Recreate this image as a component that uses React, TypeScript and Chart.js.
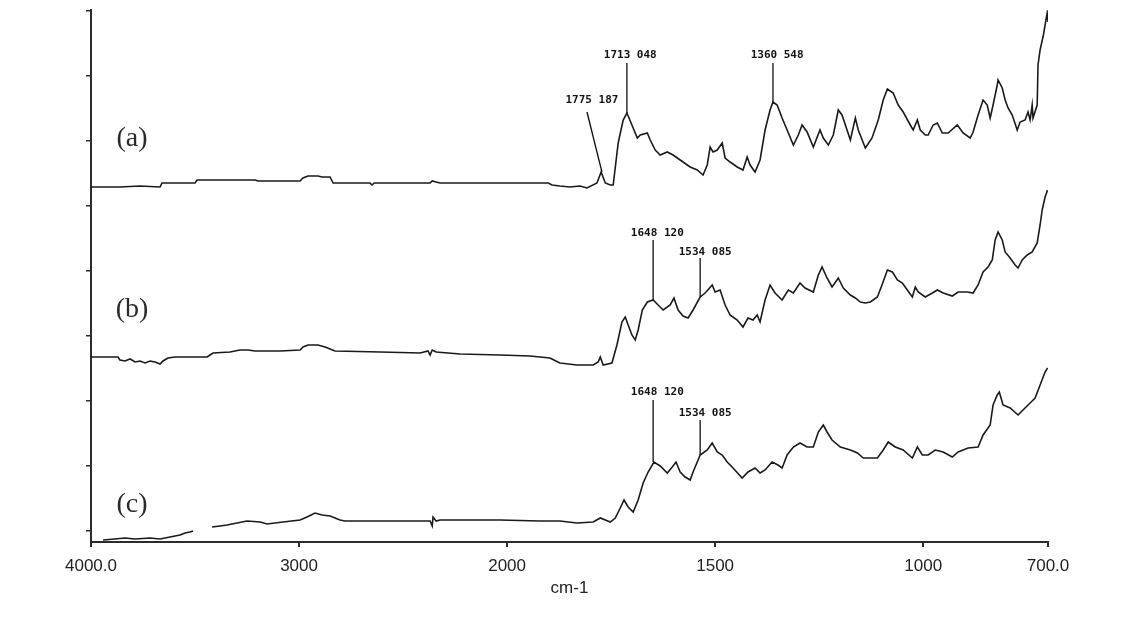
import React, { useEffect, useRef } from "react";
import { Chart, registerables } from "chart.js";

Chart.register(...registerables);

// Wavenumber (cm-1) tick values and their printed labels
const xTickValues = [4000, 3000, 2000, 1500, 1000, 700];
const xTickLabels = ["4000.0", "3000", "2000", "1500", "1000", "700.0"];
// unlabeled left-axis tick marks (arbitrary absorbance units)
const yTickValues = [1.1, 7.6, 14.1, 20.6, 27.1, 33.6, 40.1, 46.6, 53.1];

// Spectrum (a): [wavenumber, value]
const traceA: [number, number][] = [
  [4000, 35.5], [3861, 35.5], [3764, 35.6], [3668, 35.5], [3659, 35.9], [3500, 35.9], [3490, 36.2], [3211, 36.2],
  [3197, 36.1], [2995, 36.1], [2981, 36.4], [2957, 36.6], [2909, 36.6], [2889, 36.5], [2851, 36.5], [2836, 35.9],
  [2659, 35.9], [2649, 35.7], [2639, 35.9], [2370, 35.9], [2360, 36.1], [2341, 36.0], [2322, 35.9], [1901, 35.9],
  [1892, 35.7], [1873, 35.6], [1849, 35.5], [1825, 35.6], [1808, 35.4], [1784, 35.9], [1774, 37.0], [1764, 35.9],
  [1752, 35.7], [1745, 35.7], [1733, 39.9], [1721, 42.2], [1712, 42.9], [1700, 41.7], [1687, 40.4], [1680, 40.7],
  [1663, 40.9], [1656, 40.2], [1644, 39.2], [1632, 38.7], [1615, 39.0], [1601, 38.7], [1584, 38.2], [1560, 37.5],
  [1543, 37.2], [1529, 36.7], [1519, 37.7], [1512, 39.5], [1505, 39.0], [1495, 39.2], [1483, 39.9], [1476, 38.4],
  [1464, 38.0], [1447, 37.5], [1433, 37.2], [1423, 38.5], [1416, 37.7], [1404, 37.0], [1392, 38.2], [1380, 41.2],
  [1368, 43.2], [1361, 44.0], [1351, 43.7], [1339, 42.4], [1327, 41.2], [1312, 39.7], [1300, 40.7], [1291, 41.7],
  [1279, 41.0], [1264, 39.5], [1248, 41.2], [1240, 40.4], [1228, 39.7], [1216, 40.7], [1204, 43.2], [1195, 42.7],
  [1183, 41.2], [1175, 40.2], [1163, 42.4], [1156, 41.2], [1139, 39.4], [1123, 40.4], [1108, 42.2], [1096, 44.2],
  [1086, 45.3], [1072, 44.9], [1060, 43.7], [1048, 43.0], [1031, 41.7], [1024, 41.2], [1014, 42.2], [1007, 41.2],
  [995, 40.7], [988, 40.7], [976, 41.7], [966, 41.9], [954, 40.9], [940, 40.9], [918, 41.7], [904, 40.9],
  [887, 40.4], [880, 41.0], [868, 42.7], [856, 44.2], [846, 43.7], [839, 42.4], [832, 43.7], [822, 45.7],
  [820, 46.2], [810, 45.4], [803, 44.2], [796, 43.4], [786, 42.7], [774, 41.2], [767, 42.0], [755, 42.2],
  [748, 43.0], [743, 42.2], [738, 43.7], [736, 42.4], [726, 43.7], [724, 47.7], [719, 49.2], [711, 50.7],
  [707, 51.7], [702, 52.9], [700, 52.0],
];

// Spectrum (b)
const traceB: [number, number][] = [
  [4000, 18.5], [3957, 18.5], [3870, 18.5], [3861, 18.2], [3837, 18.1], [3812, 18.3], [3788, 18.0], [3764, 18.1],
  [3740, 17.9], [3716, 18.1], [3692, 18.0], [3668, 17.8], [3654, 18.1], [3630, 18.4], [3596, 18.5], [3524, 18.5],
  [3442, 18.5], [3428, 18.7], [3413, 18.9], [3332, 19.0], [3284, 19.2], [3245, 19.2], [3211, 19.1], [3091, 19.1],
  [2995, 19.2], [2981, 19.5], [2957, 19.7], [2909, 19.7], [2875, 19.5], [2827, 19.1], [2610, 19.0], [2418, 18.9],
  [2380, 19.1], [2370, 18.7], [2360, 19.2], [2341, 19.0], [2226, 18.8], [2034, 18.7], [1945, 18.6], [1897, 18.4],
  [1873, 17.9], [1832, 17.7], [1793, 17.7], [1781, 18.0], [1776, 18.5], [1769, 17.7], [1748, 17.9], [1736, 19.7],
  [1724, 22.0], [1716, 22.5], [1709, 21.7], [1700, 20.7], [1692, 20.2], [1685, 21.2], [1675, 23.2], [1663, 24.0],
  [1649, 24.2], [1637, 23.7], [1625, 23.2], [1608, 23.7], [1599, 24.4], [1589, 23.2], [1577, 22.6], [1565, 22.4],
  [1553, 23.2], [1536, 24.5], [1524, 24.9], [1507, 25.7], [1500, 25.0], [1488, 25.2], [1476, 23.7], [1464, 22.7],
  [1447, 22.2], [1433, 21.5], [1421, 22.4], [1409, 22.2], [1399, 22.7], [1392, 22.0], [1380, 24.2], [1368, 25.7],
  [1356, 24.9], [1339, 24.2], [1324, 25.2], [1312, 24.9], [1296, 25.9], [1284, 25.4], [1264, 25.0], [1252, 26.7],
  [1243, 27.5], [1231, 26.4], [1219, 25.5], [1204, 26.4], [1192, 25.4], [1175, 24.7], [1163, 24.4], [1151, 24.0],
  [1139, 23.9], [1127, 24.0], [1110, 24.5], [1099, 25.7], [1086, 27.2], [1074, 27.0], [1062, 26.2], [1050, 25.9],
  [1038, 25.2], [1026, 24.5], [1019, 25.5], [1012, 25.0], [995, 24.5], [978, 24.9], [966, 25.2], [952, 24.9],
  [930, 24.6], [916, 25.0], [894, 25.0], [880, 24.9], [868, 25.7], [856, 27.0], [844, 27.5], [834, 28.2],
  [827, 30.2], [820, 31.0], [810, 30.2], [803, 29.0], [791, 28.4], [779, 27.7], [772, 27.4], [762, 28.2],
  [750, 28.7], [738, 29.0], [726, 29.9], [719, 31.7], [714, 33.2], [707, 34.5], [701, 35.2],
];

// Spectrum (c) (null = gap in the recorded trace)
const traceC: [number, number | null][] = [
  [3942, 0.2], [3885, 0.3], [3837, 0.4], [3788, 0.3], [3716, 0.4], [3668, 0.3], [3620, 0.5], [3572, 0.7],
  [3548, 0.9], [3524, 1.0], [3510, 1.1], [3470, null], [3418, 1.5], [3380, 1.6], [3346, 1.7], [3298, 1.9],
  [3250, 2.1], [3187, 2.0], [3154, 1.8], [3077, 2.0], [2995, 2.2], [2962, 2.5], [2923, 2.9], [2889, 2.7],
  [2851, 2.6], [2803, 2.2], [2779, 2.1], [2755, 2.1], [2370, 2.1], [2360, 1.6], [2356, 2.5], [2341, 2.1],
  [2322, 2.2], [2034, 2.2], [1921, 2.1], [1873, 2.1], [1832, 1.9], [1793, 2.0], [1776, 2.4], [1752, 2.0],
  [1740, 2.4], [1728, 3.4], [1719, 4.2], [1709, 3.5], [1697, 3.0], [1685, 4.2], [1673, 5.9], [1661, 7.0],
  [1647, 8.0], [1632, 7.6], [1615, 6.9], [1603, 7.5], [1594, 8.0], [1584, 7.0], [1572, 6.5], [1560, 6.2],
  [1553, 7.0], [1536, 8.7], [1519, 9.2], [1507, 9.9], [1495, 9.0], [1483, 8.7], [1471, 8.0], [1457, 7.4],
  [1435, 6.4], [1421, 7.0], [1404, 7.4], [1392, 6.9], [1380, 7.2], [1363, 8.0], [1349, 7.7], [1339, 7.4],
  [1327, 8.7], [1312, 9.5], [1296, 9.9], [1279, 9.5], [1264, 9.5], [1252, 11.0], [1240, 11.7], [1231, 11.0],
  [1219, 10.2], [1199, 9.5], [1175, 9.2], [1158, 8.9], [1144, 8.4], [1110, 8.4], [1096, 9.2], [1084, 10.0],
  [1067, 9.5], [1048, 9.2], [1026, 8.4], [1014, 9.5], [1002, 8.7], [988, 8.7], [971, 9.2], [952, 9.0],
  [930, 8.5], [916, 9.0], [892, 9.4], [868, 9.5], [856, 10.7], [839, 11.7], [832, 13.7], [822, 14.7],
  [817, 15.0], [808, 13.7], [791, 13.4], [772, 12.7], [760, 13.2], [743, 13.9], [731, 14.4], [719, 15.7],
  [707, 17.0], [701, 17.4],
];

// Peak annotations: text, marked point, label anchor, leader-line start
const peakLabels = [
  { text: "1775 187", wn: 1772, y: 37.0, labelWn: 1796, labelY: 44.2, leaderWn: 1808, leaderY: 43.0 },
  { text: "1713 048", wn: 1712, y: 42.9, labelWn: 1704, labelY: 48.7, leaderWn: 1712, leaderY: 47.9 },
  { text: "1360 548", wn: 1361, y: 44.0, labelWn: 1351, labelY: 48.7, leaderWn: 1361, leaderY: 47.9 },
  { text: "1648 120", wn: 1649, y: 24.2, labelWn: 1639, labelY: 30.9, leaderWn: 1649, leaderY: 30.2 },
  { text: "1534 085", wn: 1536, y: 24.5, labelWn: 1524, labelY: 29.0, leaderWn: 1536, leaderY: 28.4 },
  { text: "1648 120", wn: 1649, y: 8.0, labelWn: 1639, labelY: 15.0, leaderWn: 1649, leaderY: 14.2 },
  { text: "1534 085", wn: 1536, y: 8.7, labelWn: 1524, labelY: 12.9, leaderWn: 1536, leaderY: 12.2 },
];

const seriesLabels = [
  { text: "(a)", wn: 3803, y: 40.3 },
  { text: "(b)", wn: 3803, y: 23.2 },
  { text: "(c)", wn: 3803, y: 3.7 },
];

// Instrument abscissa: scale expands 2x below 2000 cm-1
const toU = (wn: number) => (wn >= 2000 ? (4000 - wn) / 1000 : 2 + (2000 - wn) / 500);

const AXIS_COLOR = "#2e2a33";
const TRACE_COLOR = "#1a1a1a";
const TICK_FONT = "'Liberation Sans', Arial, sans-serif";

const toPoints = (arr: [number, number | null][]) => arr.map(([w, v]) => ({ x: toU(w), y: v }));

const annotationPlugin = {
  id: "ftirAnnotations",
  beforeDraw(chart: any) {
    const { ctx } = chart;
    ctx.save();
    ctx.fillStyle = "#ffffff";
    ctx.fillRect(0, 0, chart.width, chart.height);
    ctx.restore();
  },
  afterDatasetsDraw(chart: any) {
    const { ctx } = chart;
    const xs = chart.scales.x;
    const ys = chart.scales.y;
    ctx.save();
    ctx.strokeStyle = "#111";
    ctx.fillStyle = "#111";
    ctx.lineWidth = 1.3;
    for (const p of peakLabels) {
      ctx.beginPath();
      ctx.moveTo(xs.getPixelForValue(toU(p.leaderWn)), ys.getPixelForValue(p.leaderY));
      ctx.lineTo(xs.getPixelForValue(toU(p.wn)), ys.getPixelForValue(p.y));
      ctx.stroke();
      ctx.font = "bold 11px 'DejaVu Sans Mono', monospace";
      ctx.textAlign = "center";
      ctx.textBaseline = "middle";
      ctx.fillText(p.text, xs.getPixelForValue(toU(p.labelWn)), ys.getPixelForValue(p.labelY));
    }
    ctx.font = "28px 'Liberation Serif', 'DejaVu Serif', serif";
    ctx.fillStyle = "#2a2a2a";
    for (const s of seriesLabels) {
      ctx.textAlign = "center";
      ctx.textBaseline = "middle";
      ctx.fillText(s.text, xs.getPixelForValue(toU(s.wn)), ys.getPixelForValue(s.y));
    }
    ctx.restore();
  },
};

export default function App() {
  const canvasRef = useRef<HTMLCanvasElement | null>(null);

  useEffect(() => {
    if (!canvasRef.current) return;
    const mk = (label: string, arr: [number, number | null][]) => ({
      label,
      data: toPoints(arr),
      borderColor: TRACE_COLOR,
      borderWidth: 1.6,
      pointRadius: 0,
      tension: 0,
      fill: false,
      spanGaps: false,
    });
    const chart = new Chart(canvasRef.current, {
      type: "line",
      data: {
        datasets: [mk("(a)", traceA), mk("(b)", traceB), mk("(c)", traceC)],
      },
      options: {
        animation: false,
        responsive: false,
        maintainAspectRatio: false,
        layout: { padding: { top: 10, right: 85, left: 0, bottom: 0 } },
        plugins: { legend: { display: false }, tooltip: { enabled: false } },
        scales: {
          x: {
            type: "linear",
            min: 0,
            max: 4.6,
            afterBuildTicks(scale: any) {
              scale.ticks = xTickValues.map((w) => ({ value: toU(w) }));
            },
            afterFit(scale: any) {
              scale.height = 93;
            },
            ticks: {
              autoSkip: false,
              maxRotation: 0,
              padding: 9,
              color: "#222",
              font: { family: TICK_FONT, size: 17 },
              callback: (_v: any, i: number) => xTickLabels[i],
            },
            grid: {
              display: true,
              drawOnChartArea: false,
              drawTicks: true,
              tickLength: 5,
              color: AXIS_COLOR,
              lineWidth: 2,
            },
            border: { display: true, color: AXIS_COLOR, width: 2 },
            title: {
              display: true,
              text: "cm-1",
              color: "#222",
              font: { family: TICK_FONT, size: 17 },
              padding: { top: 0, bottom: 36 },
            },
          },
          y: {
            type: "linear",
            min: 0,
            max: 53.2,
            afterBuildTicks(scale: any) {
              scale.ticks = yTickValues.map((v) => ({ value: v }));
            },
            afterFit(scale: any) {
              scale.width = 91;
            },
            ticks: { callback: () => "", padding: 0 },
            grid: {
              display: true,
              drawOnChartArea: false,
              drawTicks: true,
              tickLength: 5,
              color: AXIS_COLOR,
              lineWidth: 1.5,
            },
            border: { display: true, color: AXIS_COLOR, width: 2 },
          },
        },
      },
      plugins: [annotationPlugin],
    });
    return () => chart.destroy();
  }, []);

  return (
    <div style={{ position: "fixed", left: 0, top: 0, width: 1133, height: 635, background: "#fff" }}>
      <canvas ref={canvasRef} width={1133} height={635} style={{ display: "block" }} />
    </div>
  );
}
